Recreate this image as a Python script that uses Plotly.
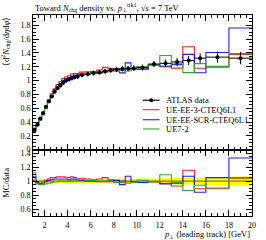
import plotly.graph_objects as go

# ---- data ----
edges = [1.0, 1.25, 1.5, 1.75, 2.0, 2.25, 2.5, 2.75, 3.0, 3.25, 3.5, 3.75, 4.0, 4.25, 4.5, 4.75, 5.0,
         5.5, 6.0, 6.5, 7.0, 7.5, 8.0, 8.5, 9.0, 9.5, 10.0,
         11.0, 12.0, 13.0, 14.0, 15.0, 16.0, 18.0, 20.0]

data_vals = [0.28, 0.36, 0.45, 0.53, 0.62, 0.70, 0.77, 0.84, 0.89, 0.93, 0.97, 1.00, 1.02, 1.035, 1.05, 1.06,
             1.08, 1.095, 1.11, 1.12, 1.135, 1.15, 1.16, 1.17, 1.175, 1.18,
             1.19, 1.24, 1.25, 1.27, 1.29, 1.325, 1.34, 1.325]

data_err = [0.009, 0.011, 0.013, 0.016, 0.019, 0.021, 0.023, 0.025, 0.027, 0.028, 0.029, 0.03, 0.031, 0.031, 0.032, 0.032,
            0.033, 0.034, 0.035, 0.035, 0.036, 0.037, 0.038, 0.039, 0.04, 0.041,
            0.043, 0.045, 0.055, 0.06, 0.065, 0.07, 0.08, 0.088]

ratio_ee3 = [1.01, 0.97, 0.97, 0.99, 1.01, 1.03, 1.05, 1.05, 1.06, 1.06, 1.06, 1.055, 1.05, 1.06, 1.05, 1.04,
             1.04, 1.03, 1.02, 1.03, 1.05, 1.02, 1.01, 1.00, 0.99, 0.99,
             0.98, 0.99, 0.97, 0.93, 1.155, 0.89, 0.89, 1.04]
ratio_scr = [1.06, 0.98, 0.96, 0.97, 0.99, 1.01, 1.02, 1.03, 1.03, 1.03, 1.03, 1.03, 1.02, 1.03, 1.03, 1.02,
             1.01, 1.00, 1.00, 0.99, 0.99, 1.00, 1.01, 0.95, 1.07, 0.99,
             0.98, 0.99, 0.96, 0.97, 1.07, 0.84, 1.05, 1.33]
ratio_ue72 = [1.12, 0.96, 0.95, 0.95, 0.96, 0.97, 0.98, 0.99, 0.99, 1.00, 1.00, 1.00, 1.00, 1.01, 1.01, 1.02,
              1.02, 1.01, 1.01, 1.00, 1.00, 0.99, 0.98, 0.98, 0.97, 0.98,
              1.01, 0.99, 1.09, 0.98, 0.865, 0.94, 0.90, 1.05]

mc_names = ["UE-EE-3-CTEQ6L1", "UE-EE-SCR-CTEQ6L1", "UE7-2"]
mc_colors = ["#ff2020", "#2020ff", "#35a535"]
mc_ratios = [ratio_ee3, ratio_scr, ratio_ue72]

FONT = "Liberation Serif"

centers = [(a + b) / 2 for a, b in zip(edges[:-1], edges[1:])]
halfw = [(b - a) / 2 for a, b in zip(edges[:-1], edges[1:])]


def step_y(vals):
    return list(vals) + [vals[-1]]


fig = go.Figure()

# ratio band (data uncertainty)
band_lo = [1 - e / v for e, v in zip(data_err, data_vals)]
band_hi = [1 + e / v for e, v in zip(data_err, data_vals)]
fig.add_trace(go.Scatter(x=edges, y=step_y(band_lo), line_shape="hv", mode="lines",
                         line=dict(width=0, color="rgba(0,0,0,0)"), xaxis="x2", yaxis="y2",
                         showlegend=False, hoverinfo="skip"))
fig.add_trace(go.Scatter(x=edges, y=step_y(band_hi), line_shape="hv", mode="lines", fill="tonexty",
                         fillcolor="#ffff00", line=dict(width=0, color="rgba(0,0,0,0)"),
                         xaxis="x2", yaxis="y2", showlegend=False, hoverinfo="skip"))
fig.add_trace(go.Scatter(x=edges, y=step_y([v / v for v in data_vals]), line_shape="hv", mode="lines",
                         line=dict(width=1, color="#606000"), xaxis="x2", yaxis="y2",
                         showlegend=False, hoverinfo="skip"))

for name, col, rat in zip(mc_names, mc_colors, mc_ratios):
    mc_vals = [r * v for r, v in zip(rat, data_vals)]
    fig.add_trace(go.Scatter(x=edges, y=step_y(mc_vals), line_shape="hv", mode="lines",
                             line=dict(width=1.1, color=col), xaxis="x", yaxis="y",
                             name=name, showlegend=False))
    fig.add_trace(go.Scatter(x=edges, y=step_y(rat), line_shape="hv", mode="lines",
                             line=dict(width=1.1, color=col), xaxis="x2", yaxis="y2",
                             showlegend=False))

fig.add_trace(go.Scatter(x=centers, y=data_vals, mode="markers",
                         marker=dict(color="black", size=4),
                         error_y=dict(type="data", array=data_err, color="black", thickness=1, width=0),
                         error_x=dict(type="data", array=halfw, color="black", thickness=1, width=0),
                         xaxis="x", yaxis="y", name="ATLAS data", showlegend=False))

# ---- layout ----
axis_common = dict(ticks="inside", mirror="allticks", showline=True, linecolor="black", linewidth=1,
                   tickcolor="black", showgrid=False, zeroline=False,
                   tickfont=dict(family=FONT, size=8, color="black"))

fig.update_layout(
    width=266, height=240,
    margin=dict(l=33, r=10, t=15, b=22),
    paper_bgcolor="white", plot_bgcolor="white",
    showlegend=False,
    xaxis=dict(domain=[0, 1], range=[1, 20], anchor="y", showticklabels=False,
               dtick=2, tick0=0, ticklen=6,
               minor=dict(dtick=0.5, ticklen=3, ticks="inside", tickcolor="black"), **axis_common),
    yaxis=dict(domain=[0.33, 1], range=[0, 1.95], anchor="x", dtick=0.2, tick0=0, ticklen=6,
               minor=dict(dtick=0.05, ticklen=3, ticks="inside", tickcolor="black"), **axis_common),
    xaxis2=dict(domain=[0, 1], range=[1, 20], anchor="y2", matches="x",
                dtick=2, tick0=0, ticklen=6, ticklabelstandoff=1,
                minor=dict(dtick=0.5, ticklen=3, ticks="inside", tickcolor="black"), **axis_common),
    yaxis2=dict(domain=[0, 0.33], range=[0.5, 1.45], anchor="x2", dtick=0.2, tick0=0, ticklen=6,
                minor=dict(dtick=0.05, ticklen=3, ticks="inside", tickcolor="black"), **axis_common),
)

# ---- texts ----
annos = [
    dict(text="Toward <i>N</i><sub>chg</sub> density vs. <i>p</i><sub>⊥</sub><sup>trk1</sup>, √<i>s</i> = 7 TeV",
         x=0, y=1.0, xref="paper", yref="paper", xanchor="left", yanchor="bottom", yshift=0,
         showarrow=False, font=dict(family=FONT, size=8.5, color="black")),
    dict(text="⟨d<sup>2</sup><i>N</i><sub>chg</sub>/d<i>η</i>d<i>φ</i>⟩",
         x=0, y=1.0, xref="paper", yref="paper", xanchor="right", yanchor="top", xshift=-20,
         textangle=-90, showarrow=False, font=dict(family=FONT, size=8.5, color="black")),
    dict(text="MC/data", x=0, y=0.165, xref="paper", yref="paper", xanchor="right", yanchor="middle",
         xshift=-20, textangle=-90, showarrow=False, font=dict(family=FONT, size=8.5, color="black")),
    dict(text="<i>p</i><sub>⊥</sub> (leading track) [GeV]", x=1, y=0, xref="paper", yref="paper",
         xanchor="right", yanchor="top", yshift=-11, showarrow=False,
         font=dict(family=FONT, size=8.5, color="black")),
]

# manual legend
leg_names = ["ATLAS data"] + mc_names
leg_colors = ["black"] + mc_colors
leg_y = [0.576, 0.529, 0.479, 0.433]
shapes = []
for nm, col, yy in zip(leg_names, leg_colors, leg_y):
    shapes.append(dict(type="line", xref="paper", yref="paper", x0=0.502, x1=0.578, y0=yy, y1=yy,
                       line=dict(color=col, width=1.1)))
    annos.append(dict(text=nm, x=0.597, y=yy, xref="paper", yref="paper", xanchor="left", yanchor="middle",
                      showarrow=False, font=dict(family=FONT, size=8.5, color="black")))
shapes.append(dict(type="circle", xref="paper", yref="paper", xsizemode="pixel", ysizemode="pixel",
                   xanchor=0.54, yanchor=leg_y[0], x0=-2, x1=2, y0=-2, y1=2,
                   fillcolor="black", line=dict(color="black", width=0)))

fig.update_layout(annotations=annos, shapes=shapes)

fig.write_html("out.html", config={"displayModeBar": False},
               post_script="document.body.style.margin='0';document.body.style.padding='0';")
